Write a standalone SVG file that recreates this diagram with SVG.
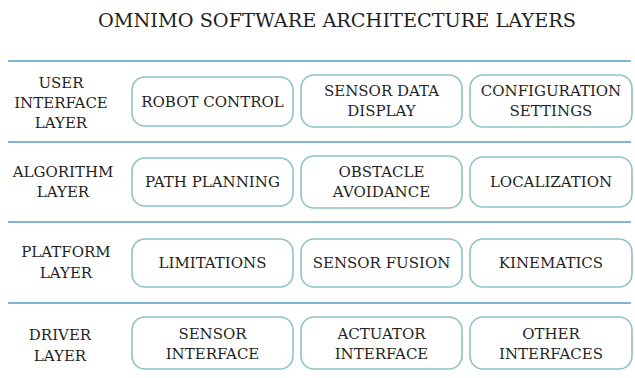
<svg xmlns="http://www.w3.org/2000/svg" width="635" height="378" viewBox="0 0 635 378">
  <style>
    text { font-family: "DejaVu Serif", "Liberation Serif", serif; fill: #1f1f24; text-anchor: middle; }
    .title { font-size: 19.3px; }
    .lbl { font-size: 15px; }
    .box rect { fill: #ffffff; stroke: #8fc3c6; stroke-width: 1.6; }
    .sep { stroke: #7db5d3; stroke-width: 2.2; }
  </style>
  <rect width="635" height="378" fill="#ffffff"/>

  <text class="title" x="337" y="27">OMNIMO SOFTWARE ARCHITECTURE LAYERS</text>

  <!-- layer separators -->
  <g id="separators">
    <line class="sep" x1="8" y1="61" x2="631" y2="61"/>
    <line class="sep" x1="8" y1="142" x2="631" y2="142"/>
    <line class="sep" x1="8" y1="222" x2="631" y2="222"/>
    <line class="sep" x1="8" y1="303" x2="631" y2="303"/>
  </g>

  <!-- layer titles -->
  <g id="layer-ui"><text class="lbl" x="61" y="88">USER</text><text class="lbl" x="61" y="108">INTERFACE</text><text class="lbl" x="61" y="128">LAYER</text></g>
  <g id="layer-algo"><text class="lbl" x="63" y="177">ALGORITHM</text><text class="lbl" x="63" y="197">LAYER</text></g>
  <g id="layer-platform"><text class="lbl" x="66" y="257">PLATFORM</text><text class="lbl" x="66" y="278">LAYER</text></g>
  <g id="layer-driver"><text class="lbl" x="60" y="340">DRIVER</text><text class="lbl" x="60" y="361">LAYER</text></g>

  <!-- user interface layer -->
  <g id="robot-control" class="box"><rect x="132" y="77" width="161" height="49" rx="13"/><text class="lbl" x="212.5" y="107">ROBOT CONTROL</text></g>
  <g id="sensor-data-display" class="box"><rect x="301" y="75" width="161" height="52" rx="13"/><text class="lbl" x="381.5" y="96">SENSOR DATA</text><text class="lbl" x="381.5" y="116">DISPLAY</text></g>
  <g id="configuration-settings" class="box"><rect x="470" y="75" width="162" height="52" rx="13"/><text class="lbl" x="551" y="96">CONFIGURATION</text><text class="lbl" x="551" y="116">SETTINGS</text></g>

  <!-- algorithm layer -->
  <g id="path-planning" class="box"><rect x="132" y="158" width="161" height="48" rx="13"/><text class="lbl" x="212.5" y="187">PATH PLANNING</text></g>
  <g id="obstacle-avoidance" class="box"><rect x="301" y="156" width="161" height="52" rx="13"/><text class="lbl" x="381.5" y="177">OBSTACLE</text><text class="lbl" x="381.5" y="197">AVOIDANCE</text></g>
  <g id="localization" class="box"><rect x="470" y="157" width="162" height="50" rx="13"/><text class="lbl" x="551" y="187">LOCALIZATION</text></g>

  <!-- platform layer -->
  <g id="limitations" class="box"><rect x="132" y="239" width="161" height="48" rx="13"/><text class="lbl" x="212.5" y="268">LIMITATIONS</text></g>
  <g id="sensor-fusion" class="box"><rect x="301" y="239" width="161" height="48" rx="13"/><text class="lbl" x="381.5" y="268">SENSOR FUSION</text></g>
  <g id="kinematics" class="box"><rect x="470" y="239" width="162" height="48" rx="13"/><text class="lbl" x="551" y="268">KINEMATICS</text></g>

  <!-- driver layer -->
  <g id="sensor-interface" class="box"><rect x="132" y="317" width="161" height="52" rx="13"/><text class="lbl" x="212.5" y="339">SENSOR</text><text class="lbl" x="212.5" y="359">INTERFACE</text></g>
  <g id="actuator-interface" class="box"><rect x="301" y="317" width="161" height="52" rx="13"/><text class="lbl" x="381.5" y="339">ACTUATOR</text><text class="lbl" x="381.5" y="359">INTERFACE</text></g>
  <g id="other-interfaces" class="box"><rect x="470" y="317" width="162" height="52" rx="13"/><text class="lbl" x="551" y="339">OTHER</text><text class="lbl" x="551" y="359">INTERFACES</text></g>
</svg>
